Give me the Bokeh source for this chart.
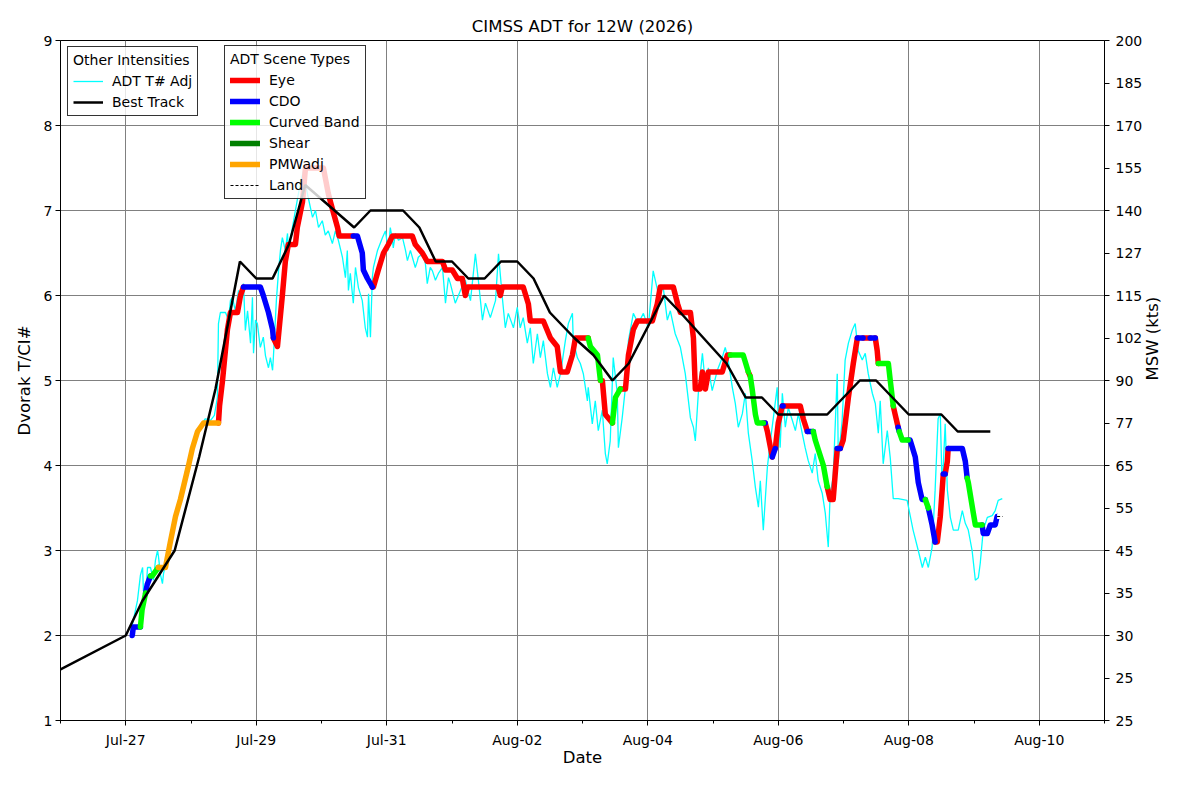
import math
from datetime import datetime, timezone
from bokeh.plotting import figure
from bokeh.models import (Range1d, LinearAxis, FixedTicker, Legend, LegendItem,
                          ColumnDataSource, DatetimeTickFormatter, CustomJSTickFormatter)
from bokeh.embed import file_html
from bokeh.resources import INLINE

FONT = "DejaVu Sans"
title_text = "CIMSS ADT for 12W (2026)"

# ---------------- data (hours since 2026-07-26 00Z) ----------------
# Best track (Dvorak T#)
bt_hour = [0, 24, 30, 42, 51, 57, 66, 72, 78, 84, 90, 108, 114, 126, 132, 138, 144, 150,
           156, 162, 168, 174, 180, 189, 196, 203, 209, 222, 228, 245, 252, 258, 264, 282,
           294, 300, 312, 324, 330, 342]
bt_val = [1.6, 2.0, 2.4, 3.0, 4.1, 4.9, 6.4, 6.2, 6.2, 6.6, 7.3, 6.8, 7.0, 7.0, 6.8, 6.4,
          6.4, 6.2, 6.2, 6.4, 6.4, 6.2, 5.8, 5.5, 5.3, 5.0, 5.2, 6.0, 5.8, 5.2, 4.8, 4.8,
          4.6, 4.6, 5.0, 5.0, 4.6, 4.6, 4.4, 4.4]

# ADT T# (adjusted)
adt_t_hour = [25.7, 26.8, 28.3, 29.4, 30.2, 30.5, 31.3, 32.0, 33.1, 34.2, 34.9, 35.7, 36.0,
              36.8, 37.5, 37.9, 38.6, 40.4, 42.3, 44.1, 46.0, 47.8, 49.6, 51.5, 53.3, 55.2,
              56.6, 57.7, 58.1, 58.8, 60.7, 61.8, 62.5, 63.2, 64.3, 65.5, 66.2, 67.3, 68.0,
              68.8, 69.9, 70.6, 71.0, 71.7, 72.4, 73.5, 74.6, 75.4, 76.1, 76.5, 77.2, 78.0,
              78.3, 79.4, 80.2, 80.9, 81.6, 82.7, 83.5, 83.8, 85.3, 86.4, 88.2, 89.4, 90.8,
              92.7, 93.8, 94.9, 96.3, 97.4, 98.5, 100.0, 101.1, 102.2, 103.7, 104.8, 105.5,
              105.9, 106.6, 107.7, 108.5, 109.6, 111.0, 112.1, 112.9, 113.3, 114.0, 114.7,
              115.1, 116.6, 118.4, 119.5, 120.6, 121.3, 122.1, 122.4, 123.2, 124.3, 125.8,
              126.9, 127.6, 128.7, 130.5, 131.3, 131.6, 133.1, 134.2, 134.9, 136.0, 136.8,
              137.9, 139.0, 140.5, 141.6, 142.7, 143.4, 145.2, 147.1, 148.9, 150.8, 152.6,
              153.7, 155.2, 156.3, 158.1, 160.0, 161.1, 162.5, 163.6, 164.7, 166.6, 168.0,
              169.1, 170.2, 171.7, 172.8, 173.9, 175.4, 176.5, 177.6, 179.1, 180.2, 181.3,
              182.7, 183.9, 185.7, 186.8, 188.3, 188.6, 190.1, 191.2, 192.3, 193.8, 194.1,
              195.6, 196.7, 197.8, 199.3, 200.4, 201.1, 202.2, 203.3, 204.8, 205.2, 206.6,
              207.8, 208.9, 210.7, 212.5, 214.4, 216.2, 218.0, 219.9, 221.7, 223.2, 224.3,
              226.1, 228.0, 229.8, 231.7, 232.8, 233.5, 234.6, 236.1, 237.2, 238.3, 239.7,
              241.6, 243.4, 244.5, 245.6, 247.1, 248.2, 249.3, 250.8, 251.9, 253.0, 254.4,
              255.6, 256.7, 257.4, 258.5, 260.0, 261.1, 262.2, 263.6, 264.0, 264.7, 265.5,
              266.6, 267.7, 269.2, 270.3, 271.4, 272.8, 273.9, 275.0, 276.5, 277.6, 278.7,
              280.2, 281.3, 282.4, 283.1, 284.2, 285.7, 286.1, 287.5, 288.6, 289.8, 291.2,
              292.3, 293.4, 294.9, 296.0, 297.1, 298.6, 299.7, 300.8, 301.5, 302.6, 304.1,
              305.2, 306.3, 308.1, 311.4, 313.6, 315.5, 317.0, 318.1, 319.2, 320.6, 321.7,
              322.8, 323.6, 324.3, 325.4, 326.2, 327.3, 328.4, 330.2, 331.7, 332.8, 333.9,
              335.3, 336.5, 337.6, 338.3, 339.4, 340.9, 342.7, 343.8, 344.9, 346.4]
adt_t_val = [2.02, 2.18, 2.41, 2.71, 2.80, 2.53, 2.44, 2.80, 2.80, 2.65, 2.88, 3.00, 2.94,
             2.71, 2.61, 2.73, 2.82, 3.12, 3.41, 3.59, 3.94, 4.12, 4.29, 4.47, 4.55, 4.53,
             4.59, 4.80, 5.67, 5.80, 5.80, 5.71, 5.94, 5.98, 5.82, 6.06, 5.94, 6.14, 5.59,
             5.82, 5.44, 5.98, 5.32, 5.71, 5.67, 5.39, 5.51, 5.29, 5.20, 5.15, 5.27, 5.12,
             5.27, 5.94, 6.29, 6.53, 6.68, 6.53, 6.73, 6.53, 6.80, 7.00, 7.32, 7.47, 7.20,
             6.92, 7.00, 6.80, 6.88, 6.71, 6.76, 6.61, 6.76, 6.65, 6.45, 6.21, 6.53,
             6.06, 6.26, 5.91, 6.33, 6.09, 5.94, 5.62, 5.51, 6.02, 5.51, 6.21,
             6.33, 6.53, 6.68, 6.76, 6.53, 6.80, 6.65, 6.56, 6.73, 6.65, 6.68,
             6.53, 6.41, 6.53, 6.33, 6.41, 6.45, 6.49, 6.38, 6.14, 6.33, 6.29,
             6.18, 6.26, 6.33, 5.91, 6.21, 6.14, 5.91, 6.06, 6.18, 5.94, 6.49,
             6.18, 5.71, 5.91, 5.74, 5.94, 6.49, 5.98, 5.62, 5.79, 5.62, 5.86,
             5.62, 5.74, 5.44, 5.62, 5.20, 5.55, 5.27, 5.47, 5.08, 4.92, 5.15,
             4.92, 5.08, 5.47, 5.67, 5.79, 5.47, 5.27, 5.20, 5.08, 4.76, 4.92,
             4.49, 4.76, 4.41, 4.65, 4.14, 4.02, 4.29, 5.27, 4.85, 4.21, 4.56,
             4.92, 5.47, 5.79, 5.67, 5.79, 5.62, 6.29, 6.02, 6.09, 5.71, 5.82,
             5.55, 5.39, 5.08, 4.56, 4.45, 4.29, 4.85, 5.32, 4.96, 5.15, 4.88,
             5.12, 5.27, 5.39, 5.24, 4.92, 4.73, 4.45, 4.61, 4.85, 4.38, 4.06,
             3.74, 3.51, 3.82, 3.24, 3.98, 4.29, 4.56, 4.92, 4.56, 4.21, 4.85,
             4.45, 4.68, 4.53, 4.41, 4.61, 4.38, 4.21, 4.06, 3.91, 4.14, 3.82,
             3.67, 3.44, 3.04, 3.67, 3.86, 5.08, 4.06, 4.53, 5.24, 5.44, 5.59,
             5.67, 5.35, 5.24, 5.32, 5.08, 4.85, 4.73, 4.38, 4.76, 4.02, 4.41,
             4.09, 3.61, 3.61, 3.59, 3.24, 3.00, 2.80, 2.92, 2.80, 3.04, 3.71,
             4.55, 4.61, 3.71, 4.49, 3.71, 3.39, 3.24, 3.24, 3.47, 3.32, 3.24,
             3.00, 2.65, 2.68, 2.85, 3.24, 3.39, 3.41, 3.47, 3.59, 3.61]

# ADT CI# with scene type (EYE, CDO, CB = curved band, SHR = shear, PMW = PMW adj, LAND)
ci_hour = [26.4, 26.8, 29.4, 30.0, 31.3, 31.9, 33.1, 33.7, 36.0, 36.8, 38.6, 40.4, 42.3,
           44.1, 47.1, 48.5, 50.4, 52.6, 58.1, 58.5, 59.6, 61.4, 62.5, 65.1, 66.2, 67.3,
           68.0, 73.5, 74.6, 76.5, 78.0, 78.3, 79.8, 81.6, 82.7, 83.8, 86.4, 87.1, 89.0,
           90.1, 96.7, 98.5, 99.3, 101.9, 102.5, 107.7, 109.2, 111.0, 111.4, 112.9, 114.7,
           115.1, 116.9, 118.8, 120.6, 122.1, 129.4, 130.5, 133.1, 134.9, 136.8, 140.5,
           141.6, 144.1, 146.0, 147.8, 148.9, 149.7, 161.0, 161.8, 162.5, 170.2, 172.1,
           172.8, 177.6, 180.2, 182.7, 183.9, 186.4, 188.3, 189.4, 194.1, 194.9, 197.5,
           198.6, 199.3, 200.4, 203.0, 204.1, 205.9, 207.8, 208.9, 210.7, 212.2, 217.7,
           219.5, 220.6, 225.4, 227.0, 228.0, 231.7, 232.8, 233.5, 235.3, 236.1, 237.2,
           238.3, 243.4, 245.3, 246.4, 248.2, 251.1, 253.0, 253.7, 254.4, 255.6, 256.3,
           258.5, 259.2, 260.0, 261.8, 262.9, 264.0, 265.5, 265.8, 267.3, 272.1, 273.2,
           274.7, 276.9, 277.6, 280.6, 282.0, 283.1, 284.2, 285.7, 286.8, 287.9, 289.8,
           291.6, 293.1, 293.4, 295.2, 297.8, 299.7, 300.4, 300.8, 301.5, 304.5, 305.2,
           306.3, 307.0, 308.1, 308.5, 309.6, 311.8, 312.5, 314.4, 315.5, 316.9, 318.1,
           319.2, 320.6, 321.7, 322.5, 323.6, 324.7, 325.4, 326.2, 326.5, 327.3, 331.7,
           332.8, 333.5, 333.9, 335.7, 336.5, 339.0, 339.4, 340.9, 342.0, 343.8, 344.5,
           346.5]
ci_val = [2.0, 2.1, 2.1, 2.3, 2.5, 2.6, 2.7, 2.7, 2.8, 2.8, 2.8, 3.1, 3.4,
          3.6, 4.0, 4.2, 4.4, 4.5, 4.5, 4.7, 5.0, 5.6, 5.8, 5.8, 6.0, 6.1,
          6.1, 6.1, 6.0, 5.8, 5.6, 5.5, 5.4, 6.0, 6.4, 6.6, 6.6, 6.8, 7.1,
          7.5, 7.5, 7.2, 7.1, 6.8, 6.7, 6.7, 6.7, 6.5, 6.3, 6.2, 6.1,
          6.1, 6.3, 6.5, 6.6, 6.7, 6.7, 6.6, 6.5, 6.4, 6.4, 6.4,
          6.3, 6.3, 6.2, 6.2, 6.0, 6.1, 6.1, 6.0, 6.1, 6.1, 5.9,
          5.7, 5.7, 5.5, 5.4, 5.1, 5.1, 5.3, 5.5, 5.5, 5.4, 5.3,
          5.0, 5.0, 4.6, 4.5, 4.8, 4.9, 4.9, 5.3, 5.6, 5.7, 5.7,
          5.9, 6.1, 6.1, 5.9, 5.8, 5.8, 5.5, 4.9, 4.9, 5.1, 4.9,
          5.1, 5.1, 5.3, 5.3, 5.3, 5.3, 5.1, 5.05, 4.9, 4.6, 4.5,
          4.5, 4.5, 4.4, 4.1, 4.2, 4.5, 4.7, 4.7, 4.7, 4.7, 4.55,
          4.4, 4.4, 4.3, 4.0, 3.75, 3.6, 3.6, 4.2, 4.2, 4.3, 4.8,
          5.2, 5.5, 5.5, 5.5, 5.5, 5.5, 5.35, 5.2, 5.2, 5.2, 5.0,
          4.7, 4.6, 4.45, 4.4, 4.3, 4.3, 4.3, 4.1, 3.8, 3.6, 3.6,
          3.5, 3.3, 3.1, 3.1, 3.4, 3.9, 3.9, 4.05, 4.2, 4.2, 4.2,
          4.05, 3.85, 3.8, 3.45, 3.3, 3.3, 3.2, 3.2, 3.3, 3.3, 3.4,
          3.4]
ci_scene = ["CDO", "CDO", "CDO", "CB", "CB", "CDO", "CDO", "CB", "CB", "PMW", "PMW", "PMW", "PMW",
            "PMW", "PMW", "PMW", "PMW", "PMW", "PMW", "EYE", "EYE", "EYE", "EYE", "EYE", "EYE", "EYE",
            "CDO", "CDO", "CDO", "CDO", "CDO", "CDO", "EYE", "EYE", "EYE", "EYE", "EYE", "EYE", "EYE",
            "EYE", "EYE", "EYE", "EYE", "EYE", "EYE", "EYE", "CDO", "CDO", "CDO", "CDO", "CDO",
            "EYE", "EYE", "EYE", "EYE", "EYE", "EYE", "EYE", "EYE", "EYE", "EYE", "EYE",
            "EYE", "EYE", "EYE", "EYE", "EYE", "EYE", "EYE", "EYE", "EYE", "EYE", "EYE",
            "EYE", "EYE", "EYE", "EYE", "EYE", "EYE", "EYE", "EYE", "EYE", "CB", "CB",
            "CB", "EYE", "EYE", "EYE", "CB", "CB", "EYE", "EYE", "EYE", "EYE", "EYE",
            "EYE", "EYE", "EYE", "EYE", "EYE", "EYE", "EYE", "EYE", "EYE", "EYE", "EYE",
            "EYE", "EYE", "EYE", "EYE", "CB", "CB", "CB", "EYE", "CB", "CB", "CB",
            "CB", "CDO", "EYE", "EYE", "CDO", "EYE", "EYE", "CDO", "EYE", "EYE", "EYE",
            "EYE", "CDO", "CB", "CB", "CB", "EYE", "EYE", "EYE", "CDO", "EYE", "EYE",
            "EYE", "EYE", "CDO", "CDO", "EYE", "CDO", "EYE", "EYE", "CB", "CB", "CB",
            "CB", "EYE", "EYE", "CDO", "CB", "CB", "CDO", "CDO", "CDO", "CDO", "CDO",
            "CB", "CDO", "CDO", "EYE", "EYE", "EYE", "CDO", "EYE", "EYE", "CDO", "CDO",
            "CDO", "CDO", "CB", "CB", "CB", "CB", "CDO", "CDO", "CDO", "CDO", "CDO",
            "LAND"]

scene_names = ["EYE", "CDO", "CB", "SHR", "PMW"]
scene_labels = ["Eye", "CDO", "Curved Band", "Shear", "PMWadj"]
scene_colors = ["#ff0000", "#0000ff", "#00ff00", "#008000", "#ffa500"]

# right-axis MSW labels for T# 1.0, 1.5, ..., 9.0
msw_labels = ["25", "25", "30", "35", "45", "55", "65", "77", "90", "102", "115", "127",
              "140", "155", "170", "185", "200"]

# ---------------- helpers ----------------
T0_MS = datetime(2026, 7, 26, tzinfo=timezone.utc).timestamp() * 1000.0
HOUR_MS = 3600 * 1000.0
NAN = float("nan")


def t(h):
    return T0_MS + h * HOUR_MS


# runs of identical scene type, each joined to the preceding point
runs = {k: {"xs": [], "ys": []} for k in scene_names + ["LAND"]}
n = len(ci_hour)
s = 0
while s < n:
    e = s
    while e + 1 < n and ci_scene[e + 1] == ci_scene[s]:
        e += 1
    idx = list(range(max(s - 1, 0), e + 1))
    runs[ci_scene[s]]["xs"].append([t(ci_hour[j]) for j in idx])
    runs[ci_scene[s]]["ys"].append([ci_val[j] for j in idx])
    s = e + 1
# scene types with no data still need one (empty) row so the legend draws them
for k in runs:
    if not runs[k]["xs"]:
        runs[k]["xs"].append([NAN, NAN])
        runs[k]["ys"].append([NAN, NAN])

# ---------------- figure ----------------
p = figure(frame_width=1044, frame_height=680, x_axis_type="datetime",
           x_range=Range1d(t(0), t(16 * 24)), y_range=Range1d(1, 9),
           output_backend="svg", toolbar_location=None,
           min_border_left=60, min_border_right=96, min_border_top=40, min_border_bottom=80,
           title=title_text, background_fill_color="white", border_fill_color="white")

p.title.text_font = FONT
p.title.text_font_size = "16.5px"
p.title.text_font_style = "normal"
p.title.align = "center"
p.title.text_color = "black"

p.outline_line_color = "black"
p.outline_line_width = 1

lx = p.below[0]
ly = p.left[0]

major_x = [t(24 * d) for d in range(1, 17, 2)]
minor_x = [t(24 * d) for d in range(0, 17, 2)]
lx.ticker = FixedTicker(ticks=major_x, minor_ticks=minor_x)
lx.formatter = DatetimeTickFormatter(days="%b-%d", months="%b-%d", hours="%b-%d",
                                     years="%b-%d")
ly.ticker = FixedTicker(ticks=list(range(1, 10)))

ry = LinearAxis(ticker=FixedTicker(ticks=[1 + 0.5 * i for i in range(17)]),
                formatter=CustomJSTickFormatter(args=dict(labels=msw_labels), code="""
                    const i = Math.round((tick - 1) * 2);
                    return (i >= 0 && i < labels.length) ? labels[i] : "";
                """),
                axis_label="MSW (kts)")
p.add_layout(ry, "right")

for ax in [lx, ly, ry]:
    ax.major_label_text_font = FONT
    ax.major_label_text_font_size = "14px"
    ax.major_label_text_color = "black"
    ax.axis_label_text_font = FONT
    ax.axis_label_text_font_size = "16.5px"
    ax.axis_label_text_font_style = "normal"
    ax.axis_label_text_color = "black"
    ax.axis_line_color = "black"
    ax.major_tick_line_color = "black"
    ax.major_tick_in = 0
    ax.major_tick_out = 5
    ax.minor_tick_in = 0
    ax.minor_tick_out = 3
    ax.minor_tick_line_color = "black"

ly.minor_tick_line_color = None
ry.minor_tick_line_color = None
lx.axis_label = "Date"
ly.axis_label = "Dvorak T/CI#"
lx.major_label_standoff = 6
lx.axis_label_standoff = -3
ly.major_label_standoff = 3
ly.axis_label_standoff = 7
ry.major_label_standoff = 6
ry.axis_label_standoff = 7
ry.axis_label_orientation = math.pi / 2

p.xgrid.ticker = FixedTicker(ticks=major_x)
p.ygrid.ticker = FixedTicker(ticks=list(range(1, 10)))
for g in [p.xgrid[0], p.ygrid[0]]:
    g.grid_line_color = "#808080"
    g.grid_line_width = 1

# ---------------- glyphs ----------------
cyan_r = p.line([t(h) for h in adt_t_hour], adt_t_val, line_color="#00ffff", line_width=1.3)

scene_r = []
for name, col in zip(scene_names, scene_colors):
    src = ColumnDataSource(dict(xs=runs[name]["xs"], ys=runs[name]["ys"]))
    r = p.multi_line("xs", "ys", source=src, line_color=col, line_width=5.5,
                     line_join="round", line_cap="round")
    scene_r.append(r)

bt_r = p.line([t(h) for h in bt_hour], bt_val, line_color="black", line_width=2.5)

land_src = ColumnDataSource(dict(xs=runs["LAND"]["xs"], ys=runs["LAND"]["ys"]))
p.multi_line("xs", "ys", source=land_src, line_color="white", line_width=5)
land_r = p.multi_line("xs", "ys", source=land_src, line_color="black", line_width=1.2,
                      line_dash="3 2")

# ---------------- legends ----------------
def style_legend(leg):
    leg.title_text_font = FONT
    leg.title_text_font_size = "14px"
    leg.title_text_font_style = "normal"
    leg.title_text_color = "black"
    leg.title_standoff = 5
    leg.label_text_font = FONT
    leg.label_text_font_size = "14px"
    leg.label_text_color = "black"
    leg.label_height = 16
    leg.glyph_height = 16
    leg.glyph_width = 30
    leg.label_standoff = 9
    leg.spacing = 5
    leg.padding = 5
    leg.margin = 0
    leg.border_line_color = "black"
    leg.border_line_alpha = 0.8
    leg.border_line_width = 1
    leg.background_fill_color = "white"
    leg.background_fill_alpha = 0.8


leg1 = Legend(items=[LegendItem(label="ADT T# Adj", renderers=[cyan_r]),
                     LegendItem(label="Best Track", renderers=[bt_r])],
              title="Other Intensities", location=(7, 604))
style_legend(leg1)
p.add_layout(leg1)

items2 = [LegendItem(label=lab, renderers=[r]) for lab, r in zip(scene_labels, scene_r)]
items2.append(LegendItem(label="Land", renderers=[land_r]))
leg2 = Legend(items=items2, title="ADT Scene Types", location=(164, 521))
style_legend(leg2)
p.add_layout(leg2)

open("out.html", "w").write(file_html(p, INLINE))
